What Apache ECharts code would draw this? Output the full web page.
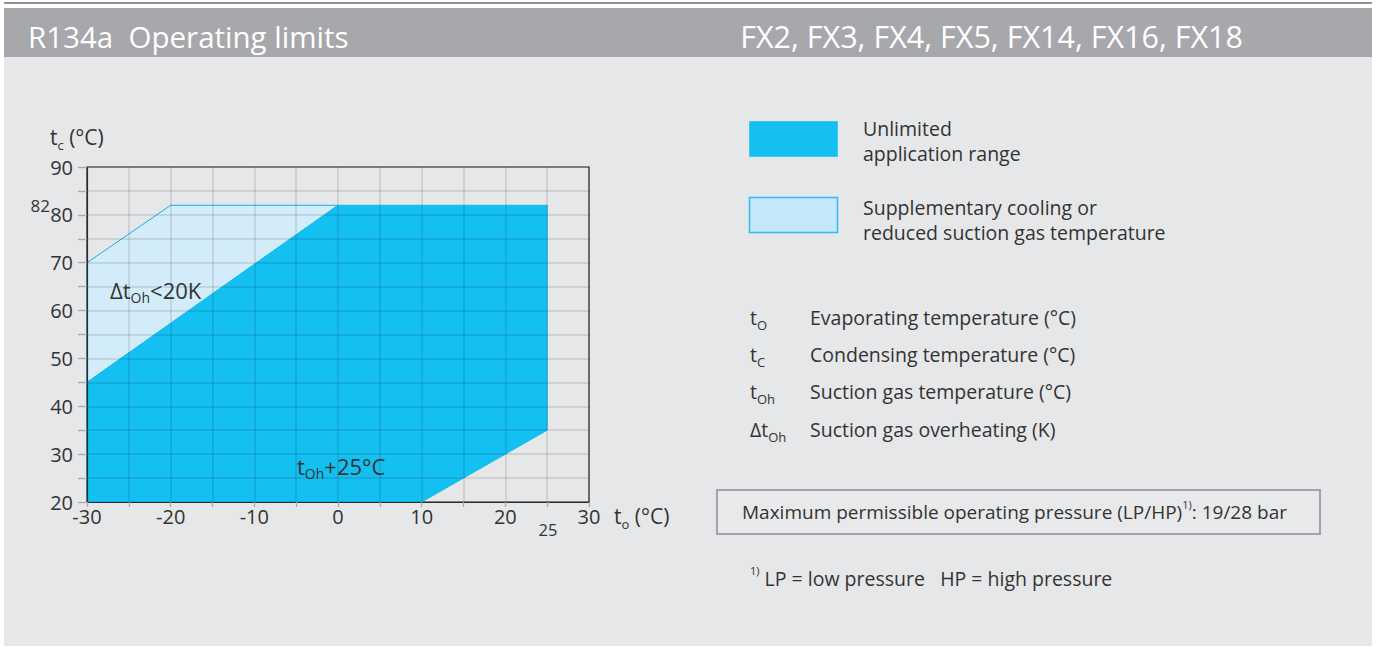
<!DOCTYPE html>
<html><head><meta charset="utf-8">
<script src="https://cdn.jsdelivr.net/npm/echarts@6/dist/echarts.min.js"></script>
<style>html,body{margin:0;padding:0;background:#fff}#c{width:1376px;height:650px}</style>
</head><body><div id="c"></div>
<script>
// ---- data ----
const toTickLabels = [-30, -20, -10, 0, 10, 20, 30];
const tcTickLabels = [20, 30, 40, 50, 60, 70, 80, 90];
// Unlimited application range polygon (t_o, t_c)
const unlimitedTo = [-30, -30, 0, 25, 25, 10];
const unlimitedTc = [20, 45, 82, 82, 35, 20];
// Supplementary cooling polygon (t_o, t_c)
const supplementaryTo = [-30, -30, -20, 0];
const supplementaryTc = [45, 70, 82, 82];
const extraTcLabel = 82;
const extraToLabel = 25;

const FONT = "'Open Sans', 'Noto Sans', sans-serif";
const TXT = '#333333';
const DARK = '#14bff1';
const LIGHT = '#d3ecf9';

function polySeries(xs, ys, fill, stroke, z) {
  return {
    type: 'custom', coordinateSystem: 'cartesian2d', z: z, silent: true, animation: false,
    data: xs.map((x, i) => [x, ys[i]]),
    encode: { x: 0, y: 1 },
    renderItem: function (params, api) {
      if (params.dataIndex !== 0) return null;
      const pts = xs.map((x, i) => api.coord([x, ys[i]]));
      return { type: 'polygon', shape: { points: pts }, style: { fill: fill, stroke: stroke, lineWidth: 1 } };
    }
  };
}

const chart = echarts.init(document.getElementById('c'), null, { renderer: 'svg' });

const subRich = {
  m: { fontSize: 21, fontFamily: FONT, color: TXT, lineHeight: 28 },
  s: { fontSize: 13, fontFamily: FONT, color: TXT, verticalAlign: 'bottom', lineHeight: 28 },
  a: { fontSize: 22, fontFamily: FONT, color: TXT, lineHeight: 28 },
  as: { fontSize: 14, fontFamily: FONT, color: TXT, verticalAlign: 'bottom', lineHeight: 28 },
  l: { fontSize: 19.5, fontFamily: FONT, color: TXT, lineHeight: 26 },
  p: { fontSize: 19, fontFamily: FONT, color: TXT, lineHeight: 26 },
  sup: { fontSize: 11, fontFamily: FONT, color: TXT, verticalAlign: 'top', lineHeight: 26 }
};

function txt(x, y, text, opts) {
  return {
    type: 'text', x: x, y: y, z: 20, silent: true,
    style: Object.assign({ text: text, fill: TXT, font: '19.5px ' + FONT, textVerticalAlign: 'middle', verticalAlign: 'middle', rich: subRich }, opts || {})
  };
}

chart.setOption({
  animation: false,
  grid: { left: 87, right: 787, top: 167, bottom: 148, show: true, borderColor: '#2b2b2b', borderWidth: 1.2, backgroundColor: 'transparent' },
  xAxis: {
    type: 'value', min: -30, max: 30, interval: 5, z: 3,
    axisLine: { show: true, onZero: false, lineStyle: { color: '#2b2b2b', width: 1.2 } },
    axisTick: { show: true, length: 5, lineStyle: { color: '#a9a9a9', width: 1.3 } },
    axisLabel: { formatter: v => toTickLabels.includes(v) ? String(v) : '', fontSize: 20, color: TXT, fontFamily: FONT, margin: 4, showMinLabel: true, showMaxLabel: true },
    splitLine: { show: true, lineStyle: { color: 'rgba(0,0,0,0.13)', width: 1.5 } }
  },
  yAxis: {
    type: 'value', min: 20, max: 90, interval: 5, z: 3,
    axisLine: { show: true, onZero: false, lineStyle: { color: '#2b2b2b', width: 1.2 } },
    axisTick: { show: true, length: 9, lineStyle: { color: '#a9a9a9', width: 1.3 } },
    axisLabel: { formatter: v => tcTickLabels.includes(v) ? String(v) : '', fontSize: 20, color: TXT, fontFamily: FONT, margin: 14, showMinLabel: true, showMaxLabel: true },
    splitLine: { show: true, lineStyle: { color: 'rgba(0,0,0,0.13)', width: 1.5 } }
  },
  series: [
    polySeries(supplementaryTo, supplementaryTc, LIGHT, '#1aaee8', 1),
    polySeries(unlimitedTo, unlimitedTc, DARK, DARK, 2)
  ],
  graphic: { elements: [
    { type: 'rect', z: -10, silent: true, shape: { x: 4, y: 2, width: 1368, height: 2 }, style: { fill: '#8e8f92' } },
    { type: 'rect', z: -10, silent: true, shape: { x: 4, y: 8, width: 1368, height: 49 }, style: { fill: '#a7a8ab' } },
    { type: 'rect', z: -10, silent: true, shape: { x: 4, y: 57, width: 1368, height: 589 }, style: { fill: '#e6e7e9' } },
    txt(28, 36, 'R134a  Operating limits', { fill: '#ffffff', font: '29.5px ' + FONT }),
    txt(1243, 36, 'FX2, FX3, FX4, FX5, FX14, FX16, FX18', { fill: '#ffffff', font: '30.5px ' + FONT, textAlign: 'right', align: 'right' }),
    // axis names
    txt(50, 137, '{m|t}{s|c}{m| (°C)}'),
    txt(614, 516, '{m|t}{s|o}{m| (°C)}'),
    // extra ticks
    txt(50, 205, String(extraTcLabel), { font: '17px ' + FONT, textAlign: 'right', align: 'right' }),
    txt(548, 529, String(extraToLabel), { font: '16.5px ' + FONT, textAlign: 'center', align: 'center' }),
    // annotations
    txt(110, 290, '{a|Δt}{as|Oh}{a|<20K}'),
    txt(297, 466, '{a|t}{as|Oh}{a|+25°C}'),
    // legend
    { type: 'rect', z: 20, silent: true, shape: { x: 749.5, y: 121.5, width: 88, height: 35 }, style: { fill: DARK, stroke: '#3cc8f3', lineWidth: 1 } },
    { type: 'rect', z: 20, silent: true, shape: { x: 749.5, y: 197.5, width: 88, height: 35 }, style: { fill: '#c4e8f9', stroke: '#30bcf0', lineWidth: 1.5 } },
    txt(863, 128, 'Unlimited'),
    txt(863, 153, 'application range'),
    txt(863, 207, 'Supplementary cooling or'),
    txt(863, 232, 'reduced suction gas temperature'),
    // symbol list
    txt(750, 317, '{l|t}{s|O}'),
    txt(810, 317, 'Evaporating temperature (°C)'),
    txt(750, 354, '{l|t}{s|C}'),
    txt(810, 354, 'Condensing temperature (°C)'),
    txt(750, 391, '{l|t}{s|Oh}'),
    txt(810, 391, 'Suction gas temperature (°C)'),
    txt(750, 429, '{l|Δt}{s|Oh}'),
    txt(810, 429, 'Suction gas overheating (K)'),
    // pressure box
    { type: 'rect', z: 20, silent: true, shape: { x: 717, y: 490, width: 603, height: 44 }, style: { fill: '#e8e9eb', stroke: '#a2a3a6', lineWidth: 2 } },
    txt(742, 512, '{p|Maximum permissible operating pressure (LP/HP)}{sup|1)}{p|: 19/28 bar}'),
    // footnote
    txt(750, 578, '{sup|1)}{l| LP = low pressure   HP = high pressure}')
  ] }
});
</script></body></html>
